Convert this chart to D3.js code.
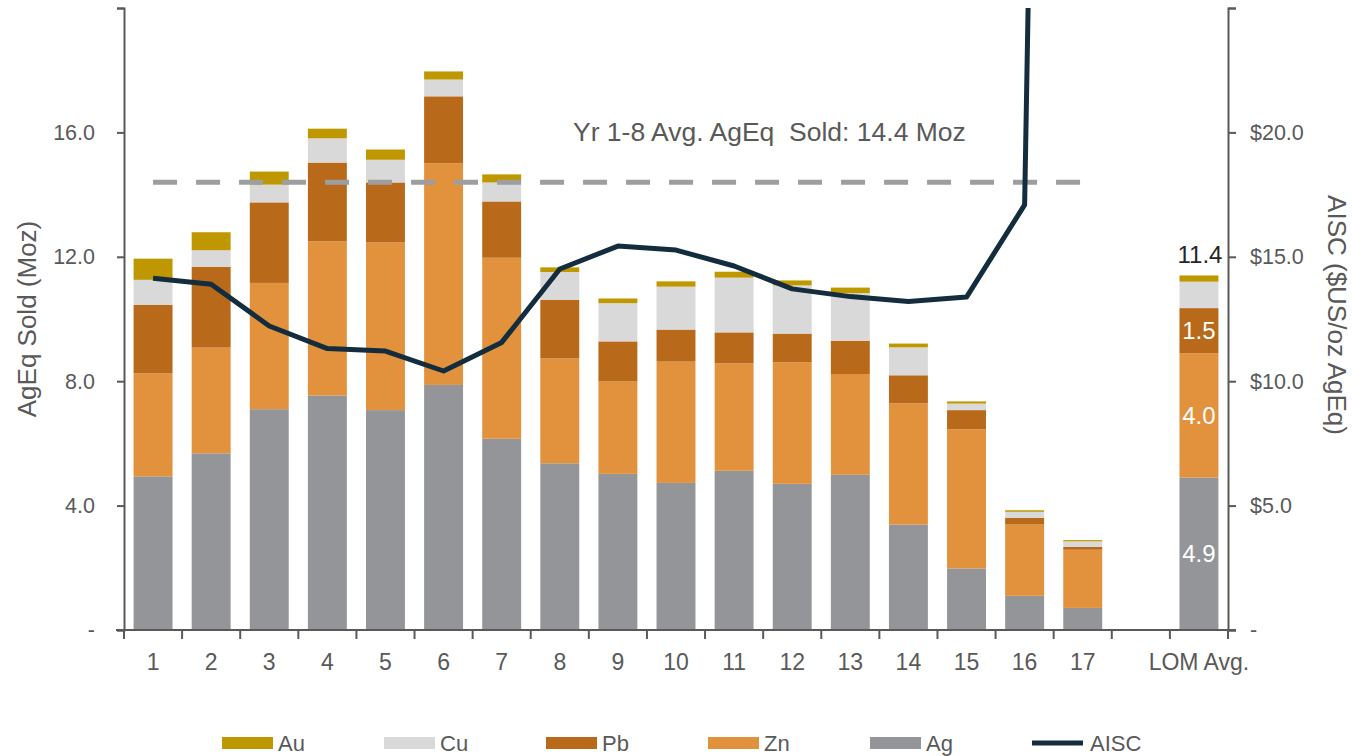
<!DOCTYPE html>
<html>
<head>
<meta charset="utf-8">
<script src="https://cdn.jsdelivr.net/npm/d3@7"></script>
<style>
  body { margin: 0; background: #fff; }
  text { font-family: "Liberation Sans", Arial, sans-serif; fill: #595959; }
  .narrow { font-family: "Liberation Sans Narrow", "Arial Narrow", "Liberation Sans", sans-serif; }
</style>
</head>
<body>
<script>
// categories (blank slot between year 17 and LOM avg)
var categories = ["1","2","3","4","5","6","7","8","9","10","11","12","13","14","15","16","17","","LOM Avg."];
var ag = [4.94, 5.68, 7.10, 7.54, 7.07, 7.88, 6.15, 5.36, 5.02, 4.73, 5.12, 4.70, 4.99, 3.39, 1.98, 1.10, 0.71, 0, 4.9];
var zn = [3.31, 3.40, 4.06, 4.96, 5.39, 7.13, 5.82, 3.37, 2.97, 3.90, 3.45, 3.91, 3.24, 3.90, 4.47, 2.29, 1.87, 0, 4.0];
var pb = [2.20, 2.60, 2.59, 2.53, 1.93, 2.15, 1.81, 1.89, 1.29, 1.03, 1.00, 0.92, 1.07, 0.90, 0.62, 0.22, 0.09, 0, 1.45];
var cu = [0.81, 0.53, 0.57, 0.78, 0.73, 0.54, 0.61, 0.89, 1.23, 1.38, 1.76, 1.55, 1.53, 0.90, 0.21, 0.19, 0.18, 0, 0.85];
var au = [0.68, 0.58, 0.42, 0.31, 0.33, 0.26, 0.26, 0.15, 0.15, 0.17, 0.19, 0.16, 0.18, 0.12, 0.07, 0.05, 0.04, 0, 0.2];
var aisc = [14.14, 13.90, 12.22, 11.31, 11.21, 10.41, 11.56, 14.51, 15.43, 15.27, 14.63, 13.71, 13.40, 13.20, 13.38, 17.09, 150];
var avgSold = 14.4;
var leftTicks = [0, 4, 8, 12, 16, 20];
var rightTicks = [0, 5, 10, 15, 20, 25];
var lomLabels = [{key: "ag", text: "4.9"}, {key: "zn", text: "4.0"}, {key: "pb", text: "1.5"}];
var lomTotal = "11.4";

var keys = ["ag", "zn", "pb", "cu", "au"];
var names = {ag: "Ag", zn: "Zn", pb: "Pb", cu: "Cu", au: "Au"};
var colours = {ag: "#939598", zn: "#e2913c", pb: "#b8691a", cu: "#d9d9d9", au: "#bf9800"};
var lineColour = "#132d3e";

var width = 1352, height = 756;
var plotTop = 8, plotBottom = 630, plotLeft = 124, plotRight = 1228;

var svg = d3.select("body").append("svg").attr("width", width).attr("height", height);

var rows = categories.map(function(c, i) {
    return {cat: c, ag: ag[i], zn: zn[i], pb: pb[i], cu: cu[i], au: au[i]};
});

var x = d3.scaleBand().domain(d3.range(categories.length)).range([plotLeft, plotRight]).padding(0);
var y = d3.scaleLinear().domain([0, 20]).range([plotBottom, plotTop]);
var yR = d3.scaleLinear().domain([0, 25]).range([plotBottom, plotTop]);
var barW = x.bandwidth() * 0.67;

var stack = d3.stack().keys(keys)(rows);

//Bars
svg.append("g").selectAll("g").data(stack).enter().append("g")
    .attr("fill", function(d) { return colours[d.key]; })
    .selectAll("rect").data(function(d) { return d; }).enter().append("rect")
    .attr("x", function(d, i) { return x(i) + (x.bandwidth() - barW) / 2; })
    .attr("width", barW)
    .attr("y", function(d) { return y(d[1]); })
    .attr("height", function(d) { return y(d[0]) - y(d[1]); });

//Average line
svg.append("line")
    .attr("x1", x(0) + x.bandwidth() / 2)
    .attr("x2", x(16) + x.bandwidth() / 2)
    .attr("y1", y(avgSold)).attr("y2", y(avgSold))
    .attr("stroke", "#9d9ea0").attr("stroke-width", 5)
    .attr("stroke-dasharray", "24,19");

svg.append("text")
    .attr("x", 573).attr("y", 141)
    .attr("xml:space", "preserve")
    .style("font-size", "26.5px")
    .text("Yr 1-8 Avg. AgEq  Sold: " + avgSold + " Moz");

//AISC line
svg.append("clipPath").attr("id", "plot").append("rect")
    .attr("x", plotLeft).attr("y", plotTop).attr("width", plotRight - plotLeft).attr("height", plotBottom - plotTop);

var line = d3.line()
    .x(function(d, i) { return x(i) + x.bandwidth() / 2; })
    .y(function(d) { return yR(d); });

svg.append("path").datum(aisc)
    .attr("clip-path", "url(#plot)")
    .attr("d", line)
    .attr("fill", "none").attr("stroke", lineColour).attr("stroke-width", 5)
    .attr("stroke-linejoin", "round");

//LOM labels
var lomIdx = categories.length - 1;
var lomStack = {};
stack.forEach(function(s) { lomStack[s.key] = s[lomIdx]; });
svg.selectAll(".lom-label").data(lomLabels).enter().append("text")
    .attr("class", "lom-label")
    .attr("x", x(lomIdx) + x.bandwidth() / 2)
    .attr("y", function(d) { var s = lomStack[d.key]; return y((s[0] + s[1]) / 2); })
    .attr("dy", "0.35em")
    .attr("text-anchor", "middle")
    .style("font-size", "24px")
    .style("fill", "#fff")
    .text(function(d) { return d.text; });

svg.append("text")
    .attr("x", x(lomIdx) + x.bandwidth() / 2 + barW / 2 + 4)
    .attr("y", y(d3.sum(keys, function(k) { return rows[lomIdx][k]; })) - 12)
    .attr("text-anchor", "end")
    .style("font-size", "24px")
    .style("fill", "#262626")
    .text(lomTotal);

//Axes
var axisColour = "#595959";
var leftAxis = svg.append("g").attr("transform", "translate(" + plotLeft + ",0)")
    .call(d3.axisLeft(y).tickValues(leftTicks).tickSize(7).tickPadding(22)
        .tickFormat(function(d) { return d === 0 ? "-" : d === 20 ? "" : d.toFixed(1); }));
var rightAxis = svg.append("g").attr("transform", "translate(" + plotRight + ",0)")
    .call(d3.axisRight(yR).tickValues(rightTicks).tickSize(8).tickPadding(14)
        .tickFormat(function(d) { return d === 0 ? "-" : d === 25 ? "" : "$" + d.toFixed(1); }));

[leftAxis, rightAxis].forEach(function(a) {
    a.select(".domain").attr("stroke", axisColour).attr("stroke-width", 2);
    a.selectAll(".tick line").attr("stroke", axisColour).attr("stroke-width", 2);
    a.selectAll(".tick text").style("font-size", "21.5px").style("fill", axisColour)
        .style("font-family", "'Liberation Sans', Arial, sans-serif");
});

//Bottom axis: ticks at band edges
var xg = svg.append("g");
xg.append("line").attr("x1", plotLeft - 8).attr("x2", plotRight + 8)
    .attr("y1", plotBottom).attr("y2", plotBottom)
    .attr("stroke", axisColour).attr("stroke-width", 2);
xg.selectAll(".xtick").data(d3.range(categories.length + 1)).enter().append("line")
    .attr("x1", function(i) { return plotLeft + i * x.step(); })
    .attr("x2", function(i) { return plotLeft + i * x.step(); })
    .attr("y1", plotBottom).attr("y2", plotBottom + 9)
    .attr("stroke", axisColour).attr("stroke-width", 2);
xg.selectAll(".xlabel").data(categories).enter().append("text")
    .attr("class", "narrow")
    .attr("x", function(d, i) { return x(i) + x.bandwidth() / 2; })
    .attr("y", 670)
    .attr("text-anchor", "middle")
    .style("font-size", "23px")
    .text(function(d) { return d; });

//Axis titles
svg.append("text")
    .attr("transform", "translate(36," + 319 + ")rotate(-90)")
    .attr("text-anchor", "middle")
    .style("font-size", "26px")
    .text("AgEq Sold (Moz)");

svg.append("text")
    .attr("transform", "translate(1328," + 315 + ")rotate(90)")
    .attr("text-anchor", "middle")
    .style("font-size", "26px")
    .text("AISC ($US/oz AgEq)");

//Legend
var legendItems = ["au", "cu", "pb", "zn", "ag", "aisc"];
var lg = svg.selectAll(".legend").data(legendItems).enter().append("g")
    .attr("transform", function(d, i) { return "translate(" + (222 + i * 162) + ",743)"; });
lg.each(function(d) {
    var g = d3.select(this);
    if (d === "aisc") {
        g.append("line").attr("x1", 0).attr("x2", 51).attr("y1", 0).attr("y2", 0)
            .attr("stroke", lineColour).attr("stroke-width", 5);
    } else {
        g.append("rect").attr("x", 0).attr("y", -6).attr("width", 51).attr("height", 12)
            .attr("fill", colours[d]);
    }
    g.append("text").attr("class", "narrow")
        .attr("x", d === "aisc" ? 58 : 56).attr("y", 8)
        .style("font-size", "22px")
        .text(d === "aisc" ? "AISC" : names[d]);
});
</script>
</body>
</html>
